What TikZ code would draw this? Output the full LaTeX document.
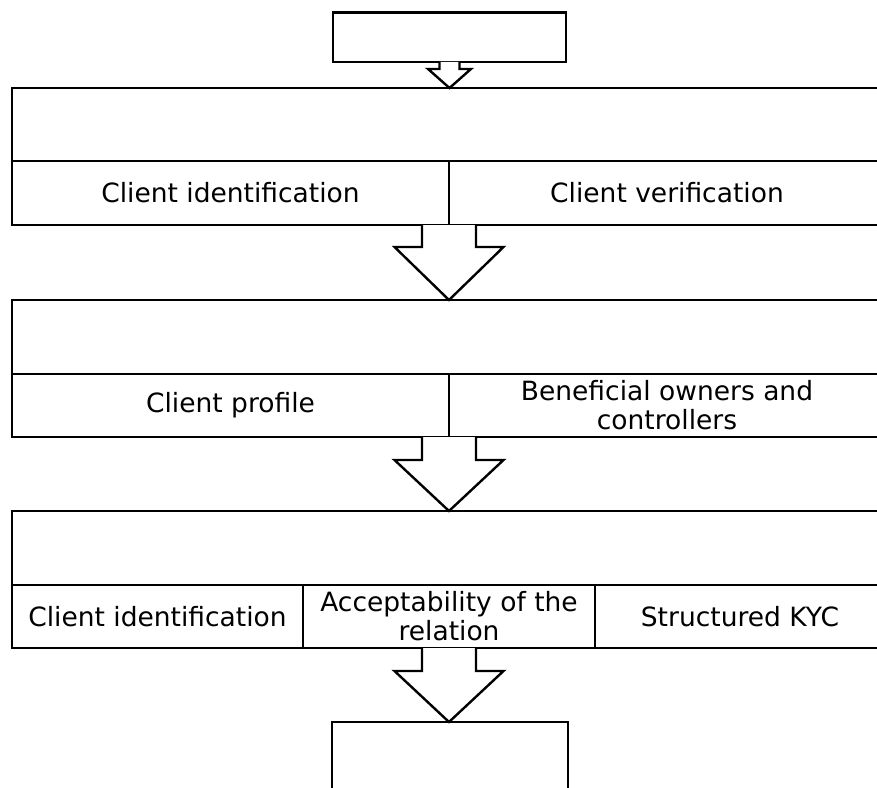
\documentclass[tikz,border=0pt]{standalone}
\usepackage{fontspec}
\setmainfont{DejaVu Sans}
\usetikzlibrary{calc}
\tikzset{
  cell/.style={draw, line width=2.4pt, inner sep=0pt, outer sep=0pt, align=center,
    font=\fontsize{26.5}{29}\selectfont},
  arrowbox/.style={draw, line width=2.4pt, line join=miter, fill=white}
}
\newcommand\blockarr[5]{%
  \draw[arrowbox] ($(#1)+(-#3,0)$) -- ($(#1)+(-#3,#5)$) -- ($(#1)+(-#4,#5)$) -- (#2)
    -- ($(#1)+(#4,#5)$) -- ($(#1)+(#3,#5)$) -- ($(#1)+(#3,0)$);}
\begin{document}
\begin{tikzpicture}[x=1pt,y=-1pt]
\useasboundingbox (0,0) rectangle (877,787);
% top box
\node[cell, minimum width=233pt, minimum height=49.3pt] (top) at (449.5,37.3) {};
% block 1
\node[cell, minimum width=873pt, minimum height=73pt] (b1head) at (448.5,124.5) {};
\node[cell, minimum width=437pt, minimum height=64pt] (b1a) at (230.5,193) {Client identification};
\node[cell, minimum width=436pt, minimum height=64pt] (b1b) at (667,193) {Client verification};
% block 2
\node[cell, minimum width=873pt, minimum height=74pt] (b2head) at (448.5,337) {};
\node[cell, minimum width=437pt, minimum height=63pt] (b2a) at (230.5,405.5) {Client profile};
\node[cell, minimum width=436pt, minimum height=63pt] (b2b) at (667,405.5) {Beneficial owners and\\controllers};
% block 3
\node[cell, minimum width=873pt, minimum height=74pt] (b3head) at (448.5,548) {};
\node[cell, minimum width=291pt, minimum height=63pt] (b3a) at (157.5,616.5) {Client identification};
\node[cell, minimum width=292pt, minimum height=63pt] (b3b) at (449,616.5) {Acceptability of the\\relation};
\node[cell, minimum width=290pt, minimum height=63pt] (b3c) at (740,616.5) {Structured KYC};
% bottom box
\node[cell, minimum width=236pt, minimum height=90pt] (bottom) at (450,767) {};
% arrows
\blockarr{top.south}{top.south |- b1head.north}{10}{21.5}{7}
\blockarr{b1a.south east}{b1a.south east |- b2head.north}{27}{54.5}{22}
\blockarr{b2a.south east}{b2a.south east |- b3head.north}{27}{54.5}{23}
\blockarr{b3b.south}{b3b.south |- bottom.north}{27}{54.5}{23}
\end{tikzpicture}
\end{document}
